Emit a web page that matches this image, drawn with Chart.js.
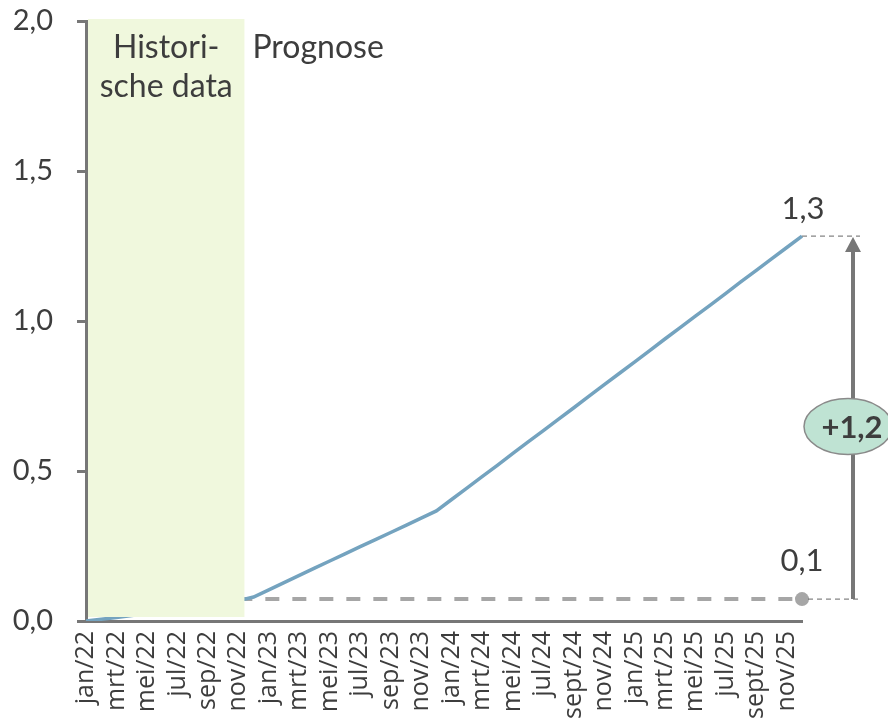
<!DOCTYPE html>
<html>
<head>
<meta charset="utf-8">
<style>
  html, body { margin: 0; padding: 0; background: #ffffff; }
  #wrap { width: 888px; height: 724px; position: relative; }
</style>
<script src="https://cdn.jsdelivr.net/npm/chart.js@4"></script>
</head>
<body>
<div id="wrap"><canvas id="c" width="888" height="724"></canvas></div>
<script>
// ---- data ----
const categories = [
  'jan/22','feb/22','mrt/22','apr/22','mei/22','jun/22','jul/22','aug/22','sep/22','okt/22','nov/22','dec/22',
  'jan/23','feb/23','mrt/23','apr/23','mei/23','jun/23','jul/23','aug/23','sep/23','okt/23','nov/23','dec/23',
  'jan/24','feb/24','mrt/24','apr/24','mei/24','jun/24','jul/24','aug/24','sept/24','okt/24','nov/24','dec/24',
  'jan/25','feb/25','mrt/25','apr/25','mei/25','jun/25','jul/25','aug/25','sept/25','okt/25','nov/25','dec/25'
];
const forecastValues = [
  0.000, 0.006, 0.012, 0.018, 0.025, 0.032, 0.039, 0.046, 0.053, 0.060, 0.068, 0.080,
  0.104, 0.128, 0.152, 0.176, 0.200, 0.224, 0.248, 0.271, 0.295, 0.319, 0.343, 0.367,
  0.405, 0.443, 0.481, 0.519, 0.558, 0.596, 0.634, 0.672, 0.710, 0.749, 0.787, 0.825,
  0.863, 0.901, 0.940, 0.978, 1.016, 1.054, 1.092, 1.131, 1.169, 1.207, 1.245, 1.283
];
const baselineValues = [
  null, null, null, null, null, null, null, null, null, null, 0.073, 0.073,
  0.073, 0.073, 0.073, 0.073, 0.073, 0.073, 0.073, 0.073, 0.073, 0.073, 0.073, 0.073,
  0.073, 0.073, 0.073, 0.073, 0.073, 0.073, 0.073, 0.073, 0.073, 0.073, 0.073, 0.073,
  0.073, 0.073, 0.073, 0.073, 0.073, 0.073, 0.073, 0.073, 0.073, 0.073, 0.073, 0.073
];
const yTicks = [0, 0.5, 1.0, 1.5, 2.0];
const historicalEndIndex = 10;          // last month of historical data (nov/22)
const historicalLabel = ['Histori-', 'sche data'];
const forecastLabel = 'Prognose';
const endLabel = '1,3';
const startLabel = '0,1';
const changeLabel = '+1,2';

const TEXT = '#3d3d3d';
const AXIS = '#777777';

const annotations = {
  id: 'annotations',
  afterDatasetsDraw(chart) {
    const ctx = chart.ctx, x = chart.scales.x, y = chart.scales.y, ca = chart.chartArea;
    const step = x.getPixelForValue(1) - x.getPixelForValue(0);
    const bx0 = ca.left + 2;
    const bx1 = x.getPixelForValue(historicalEndIndex) + 0.4 * step;
    ctx.save();
    ctx.fillStyle = '#f0f8dd';
    ctx.fillRect(bx0, ca.top - 2, bx1 - bx0, ca.bottom - 4 - (ca.top - 2));
    ctx.fillStyle = TEXT;
    ctx.font = '32px Lato';
    ctx.textAlign = 'center';
    ctx.textBaseline = 'alphabetic';
    const cx = (bx0 + bx1) / 2;
    ctx.fillText(historicalLabel[0], cx, ca.top + 37);
    ctx.fillText(historicalLabel[1], cx, ca.top + 76);
    ctx.textAlign = 'left';
    ctx.fillText(forecastLabel, bx1 + 8, ca.top + 37);
    ctx.restore();
  },
  afterDraw(chart) {
    const ctx = chart.ctx, x = chart.scales.x, y = chart.scales.y;
    const last = categories.length - 1;
    const px = x.getPixelForValue(last);
    const yTop = y.getPixelForValue(forecastValues[last]);
    const yBot = y.getPixelForValue(baselineValues[last]);
    const ax = px + 51;
    ctx.save();
    ctx.strokeStyle = '#666';
    ctx.lineWidth = 1;
    ctx.setLineDash([5, 4]);
    ctx.beginPath();
    ctx.moveTo(px, yTop); ctx.lineTo(px + 58, yTop);
    ctx.moveTo(px + 6, yBot); ctx.lineTo(px + 58, yBot);
    ctx.stroke();
    ctx.setLineDash([]);
    ctx.strokeStyle = AXIS;
    ctx.fillStyle = AXIS;
    ctx.lineWidth = 4;
    ctx.beginPath();
    ctx.moveTo(ax, yBot); ctx.lineTo(ax, yTop + 14);
    ctx.stroke();
    ctx.beginPath();
    ctx.moveTo(ax, yTop + 1);
    ctx.lineTo(ax - 8, yTop + 16);
    ctx.lineTo(ax + 8, yTop + 16);
    ctx.closePath();
    ctx.fill();
    const ey = (yTop + yBot) / 2 + 9;
    ctx.beginPath();
    ctx.ellipse(ax - 5, ey, 44, 28, 0, 0, Math.PI * 2);
    ctx.fillStyle = '#bfe3d3';
    ctx.fill();
    ctx.strokeStyle = '#8a8a8a';
    ctx.lineWidth = 1.5;
    ctx.stroke();
    ctx.fillStyle = TEXT;
    ctx.font = 'bold 31px Lato';
    ctx.textAlign = 'center';
    ctx.textBaseline = 'middle';
    ctx.fillText(changeLabel, ax - 1, ey + 1);
    ctx.font = '31px Lato';
    ctx.fillText(endLabel, px + 1, yTop - 27);
    ctx.fillText(startLabel, px, yBot - 38);
    ctx.restore();
  }
};

new Chart(document.getElementById('c'), {
  type: 'line',
  data: {
    labels: categories,
    datasets: [
      {
        data: baselineValues,
        borderColor: '#a6a6a6',
        borderWidth: 4,
        borderDash: [14, 13],
        pointRadius: (c) => c.dataIndex === categories.length - 1 ? 7 : 0,
        pointBackgroundColor: '#a6a6a6',
        pointBorderWidth: 0,
        order: 2
      },
      {
        data: forecastValues,
        borderColor: '#74a3bf',
        borderWidth: 3.5,
        pointRadius: 0,
        tension: 0,
        order: 1
      }
    ]
  },
  options: {
    responsive: false,
    animation: false,
    events: [],
    layout: { padding: { top: 21, right: 86, left: 0, bottom: 0 } },
    plugins: { legend: { display: false }, tooltip: { enabled: false } },
    scales: {
      x: {
        type: 'category',
        offset: false,
        grid: { display: false, drawTicks: false },
        border: { display: true, color: AXIS, width: 3 },
        ticks: {
          autoSkip: false,
          minRotation: 90,
          maxRotation: 90,
          padding: 10,
          color: TEXT,
          font: { family: 'Open Sans', size: 25 },
          callback: function (v, i) { return i % 2 === 0 ? categories[i] : ''; }
        },
        afterFit(scale) { scale.height = 103; scale.paddingLeft = 0; scale.paddingRight = 0; }
      },
      y: {
        min: 0,
        max: 2,
        afterBuildTicks(scale) { scale.ticks = yTicks.map(v => ({ value: v })); },
        grid: { display: true, drawOnChartArea: false, drawTicks: true, tickLength: 9, color: AXIS, lineWidth: 3 },
        border: { display: true, color: AXIS, width: 3 },
        ticks: {
          padding: 24,
          color: TEXT,
          font: { family: 'Lato', size: 29 },
          callback: (v) => Number(v).toFixed(1).replace('.', ',')
        },
        afterFit(scale) { scale.width = 86; scale.paddingTop = 0; scale.paddingBottom = 0; }
      }
    }
  },
  plugins: [annotations]
});
</script>
</body>
</html>
